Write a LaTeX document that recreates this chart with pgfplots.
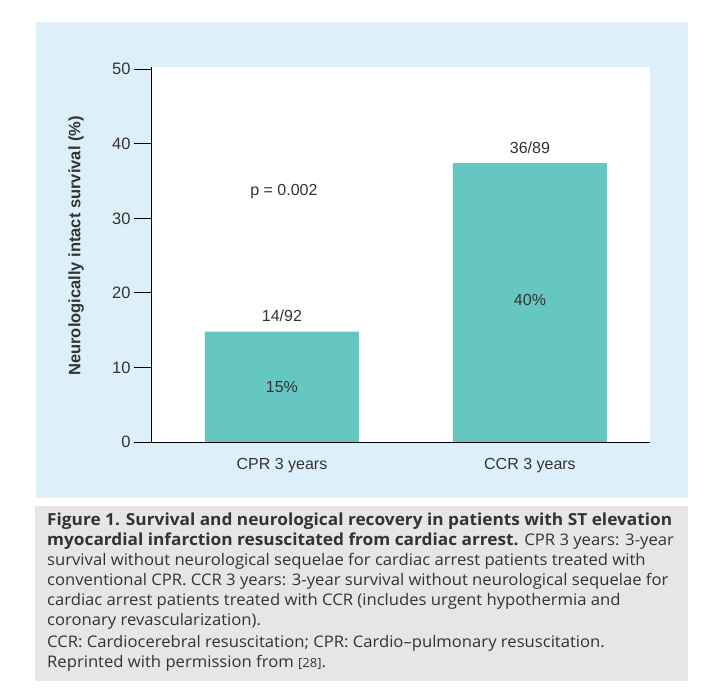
\documentclass[border=0pt]{standalone}
\usepackage{pgfplots}
\pgfplotsset{compat=1.18}
\usepackage{fontspec}
\setmainfont{Liberation Sans}
\newfontfamily\capfont{Open Sans}
\definecolor{panelblue}{HTML}{DDF0F9}
\definecolor{capgrey}{HTML}{E6E6E6}
\definecolor{barteal}{HTML}{66C6C2}
\definecolor{txt}{HTML}{333333}
\newcommand{\bb}[1]{{\fontsize{16.6}{20}\selectfont\bfseries #1}}
\begin{document}
\begin{tikzpicture}[x=1pt,y=1pt]
\path[use as bounding box] (0,0) rectangle (708,692);
\fill[white] (0,0) rectangle (708,692);
\fill[panelblue] (36,194) rectangle (688,670);
\fill[capgrey] (35,11) rectangle (688,186);
\begin{axis}[
  at={(151pt,250pt)}, anchor=south west,
  scale only axis, width=499pt, height=375pt,
  xmin=-0.528, xmax=1.484, ymin=0, ymax=50.3,
  axis background/.style={fill=white},
  axis x line*=bottom, axis y line*=left,
  axis line style={black, line width=0.9pt},
  ytick={0,10,20,30,40,50},
  tick align=outside, major tick length=17pt,
  tick style={black, line width=0.9pt},
  xtick={0,1}, xticklabels={CPR 3 years, CCR 3 years},
  x tick style={draw=none},
  xticklabel style={font=\fontsize{16}{19}\selectfont, text=txt, yshift=4pt},
  yticklabel style={font=\fontsize{16.5}{19}\selectfont, text=txt},
  /pgf/number format/assume math mode=true,
  ylabel={Neurologically intact survival (\%)},
  ylabel style={font=\bfseries\fontsize{16.5}{19}\selectfont, text=txt, at={(axis description cs:-0.15,0.523)}, anchor=center, rotate=0},
  ybar, bar width=154pt,
  clip=false,
]
\addplot[fill=barteal, draw=none] coordinates {(0,14.8) (1,37.4)};
\node[font=\fontsize{16}{19}\selectfont, text=txt] at (axis cs:0,16.9) {14/92};
\node[font=\fontsize{16}{19}\selectfont, text=txt] at (axis cs:0,7.4) {15\%};
\node[font=\fontsize{16}{19}\selectfont, text=txt] at (axis cs:1,39.5) {36/89};
\node[font=\fontsize{16}{19}\selectfont, text=txt] at (axis cs:1,19.0) {40\%};
\node[font=\fontsize{16}{19}\selectfont, text=txt] at (axis cs:0.008,33.6) {p = 0.002};
\end{axis}
\begin{scope}[every node/.style={anchor=base west, inner sep=0pt, text=txt, xscale=1.04, font=\capfont\fontsize{16}{20}\selectfont}]
\node at (47,166) {\bb{Figure 1. Survival and neurological recovery in patients with ST elevation}};
\node at (47,146) {\bb{myocardial infarction resuscitated from cardiac arrest.} CPR 3 years: 3-year};
\node at (47,126) {survival without neurological sequelae for cardiac arrest patients treated with};
\node at (47,106) {conventional CPR. CCR 3 years: 3-year survival without neurological sequelae for};
\node at (47,86) {cardiac arrest patients treated with CCR (includes urgent hypothermia and};
\node at (47,66) {coronary revascularization).};
\node at (47,44) {CCR: Cardiocerebral resuscitation; CPR: Cardio–pulmonary resuscitation.};
\node at (47,24) {Reprinted with permission from {\fontsize{12.5}{15}\selectfont[28]}.};
\end{scope}
\end{tikzpicture}
\end{document}
